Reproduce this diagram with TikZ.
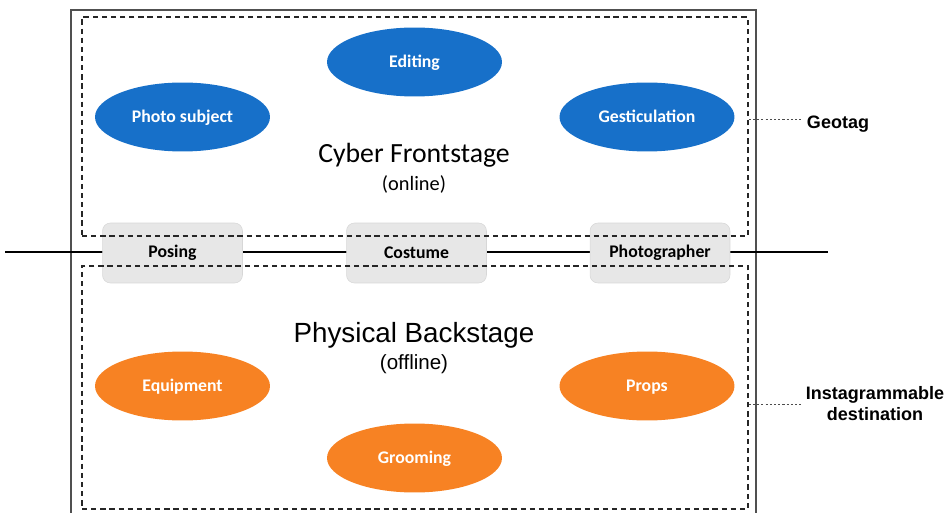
\documentclass[tikz,border=0pt]{standalone}
\usepackage{fontspec}
\setmainfont{Carlito}
\newfontfamily\labelfont{Liberation Sans}
\usepackage{tikz}
\usetikzlibrary{shapes.geometric,calc}
\definecolor{FrontBlue}{RGB}{23,112,201}
\definecolor{BackOrange}{RGB}{247,130,35}
\definecolor{TieGray}{RGB}{231,231,231}
\definecolor{FrameGray}{RGB}{80,80,80}
\tikzset{
  fbell/.style={ellipse,fill=FrontBlue,minimum width=3.5cm,minimum height=1.38cm,text=white,text depth=0.5pt,font=\fontsize{10.1}{12}\selectfont\bfseries},
  bbell/.style={ellipse,fill=BackOrange,minimum width=3.5cm,minimum height=1.38cm,text=white,text depth=0.5pt,font=\fontsize{10.1}{12}\selectfont\bfseries},
  tiebox/.style={fill=TieGray,draw=TieGray!93!black,line width=0.3pt,rounded corners=4.5pt,minimum width=2.8cm,minimum height=1.2cm,font=\fontsize{10.1}{12}\selectfont\bfseries},
  stagebox/.style={draw=black!85,line width=0.9pt,dash pattern=on 3pt off 2.2pt,minimum width=13.32cm},
  leader/.style={draw=black!70,line width=0.5pt,dash pattern=on 1.2pt off 1.2pt},
  sidelabel/.style={font=\labelfont\fontsize{10.25}{12}\selectfont\bfseries,align=center},
}

\begin{document}
\begin{tikzpicture}[x=0.02cm,y=-0.02cm]
  \clip (0,0) rectangle (947,513);
  % outer frame, open at the bottom
  \draw[FrameGray,line width=0.7pt] (71,540) |- (756,10) -- (756,540);
  % boundary line with its three crossing points
  \coordinate (lineL) at (5,252);
  \coordinate (lineR) at (828,252);
  \draw[line width=1.2pt] (lineL) -- (lineR);
  \node[tiebox] (posing) at (172.5,253) {Posing};
  \node[tiebox] (costume) at (416.5,253) {Costume};
  \node[tiebox] (photog) at (660,253) {Photographer};
  % the two stages
  \node[stagebox,minimum height=4.38cm] (front) at (415,126.5) {};
  \node[stagebox,minimum height=4.86cm] (back) at (415,387.5) {};
  \node[font=\fontsize{15.8}{18}\selectfont] (cyber) at (414,155) {Cyber Frontstage};
  \node[font=\fontsize{11.6}{13}\selectfont] (online) at (414,184.5) {(online)};
  \node[font=\labelfont\fontsize{15.8}{18}\selectfont] (phys) at (414,335) {Physical Backstage};
  \node[font=\labelfont\fontsize{11.7}{13}\selectfont] (offline) at (414,364) {(offline)};
  \node[fbell] (editing) at (414.5,62) {Editing};
  \node[fbell] (subject) at (182.5,117) {Photo subject};
  \node[fbell] (gestic) at (647,117) {Gesticulation};
  \node[bbell] (equip) at (182.5,386) {Equipment};
  \node[bbell] (props) at (647,386) {Props};
  \node[bbell] (groom) at (414.5,458) {Grooming};
  % side notes
  \node[sidelabel] (geotag) at (838,124) {Geotag};
  \node[sidelabel] (insta) at (875,404) {Instagrammable\\destination};
  \coordinate (geoEnd) at (801,119);
  \coordinate (instaEnd) at (801,404);
  \draw[leader] (front.east |- geoEnd) -- (geoEnd);
  \draw[leader] (back.east |- instaEnd) -- (instaEnd);
\end{tikzpicture}
\end{document}
